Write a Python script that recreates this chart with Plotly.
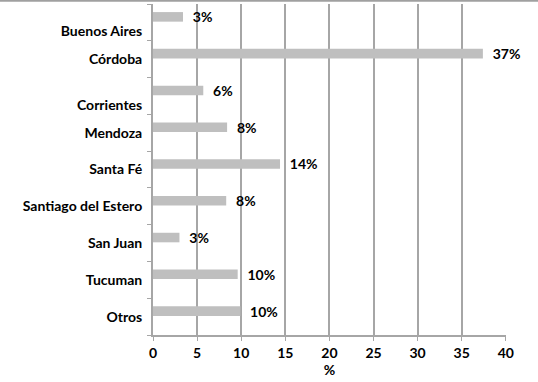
import plotly.graph_objects as go

categories = ["Buenos Aires", "Córdoba", "Corrientes", "Mendoza", "Santa Fé",
              "Santiago del Estero", "San Juan", "Tucuman", "Otros"]
tick_labels = ["<br>Buenos Aires", "Córdoba", "<br>Corrientes", "Mendoza", "Santa Fé",
               "Santiago del Estero", "San Juan", "Tucuman", "Otros"]
values = [3.4, 37.4, 5.7, 8.4, 14.4, 8.3, 3.0, 9.6, 9.9]
value_labels = ["3%", "37%", "6%", "8%", "14%", "8%", "3%", "10%", "10%"]
x_ticks = [0, 5, 10, 15, 20, 25, 30, 35, 40]

FONT = "Lato"
FS = 14
GRID = "#a6a6a6"

fig = go.Figure(go.Bar(
    x=values, y=categories, orientation="h",
    marker=dict(color="#bfbfbf", line=dict(width=0)),
    width=0.26, offset=-0.28,
    text=["\u00a0\u00a0" + t for t in value_labels],
    textposition="outside", cliponaxis=False, constraintext="none",
    textfont=dict(family=FONT, size=FS, color="#000000", weight="bold"),
    hoverinfo="skip",
))

fig.update_layout(
    width=538, height=382,
    margin=dict(l=153, r=32, t=4, b=47),
    paper_bgcolor="white", plot_bgcolor="white",
    showlegend=False,
    font=dict(family=FONT, size=FS, color="#000000", weight="bold"),
    shapes=[dict(type="line", xref="paper", yref="paper", x0=-1, x1=2,
                 y0=1 + 3.3 / 331, y1=1 + 3.3 / 331,
                 line=dict(color="#a0a0a0", width=2))],
)
fig.update_xaxes(
    range=[0, 40.02], tickvals=x_ticks, ticktext=[str(v) for v in x_ticks],
    showgrid=True, gridcolor=GRID, gridwidth=2,
    showline=True, linecolor=GRID, linewidth=2,
    ticks="outside", ticklen=4, tickcolor=GRID, tickwidth=1,
    zeroline=False, automargin=False,
    title=dict(text="%", standoff=3, font=dict(family=FONT, size=FS, weight="bold")),
    tickfont=dict(family=FONT, size=FS, weight="bold"),
)
fig.update_yaxes(
    categoryorder="array", categoryarray=categories,
    tickvals=categories, ticktext=tick_labels,
    autorange="reversed", automargin=False,
    showgrid=False, showline=True, linecolor=GRID, linewidth=2,
    ticks="outside", ticklen=4, tickcolor=GRID, tickwidth=1,
    tickson="boundaries", ticklabelstandoff=6,
    tickfont=dict(family=FONT, size=FS, weight="bold"),
)

fig.write_html("out.html", config={"displayModeBar": False},
               post_script="document.body.style.margin='0';")
